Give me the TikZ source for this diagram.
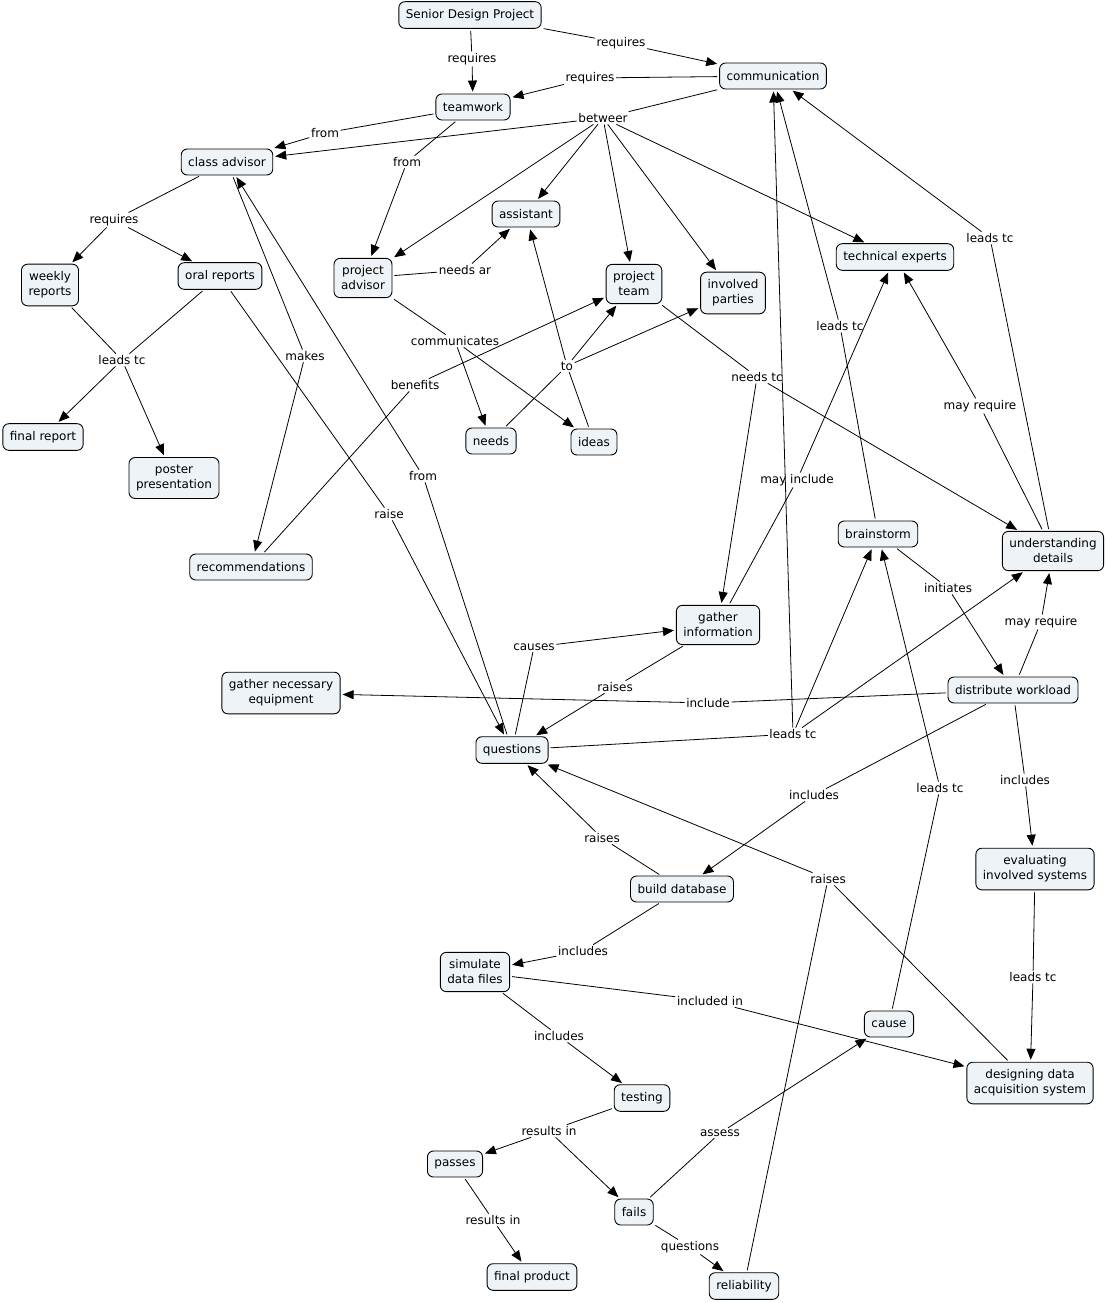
\documentclass[tikz,border=0pt]{standalone}
\usepackage{fontspec}
\setmainfont{DejaVu Sans}
\usetikzlibrary{arrows.meta}
\definecolor{cfill}{RGB}{237,243,246}
\begin{document}
\begin{tikzpicture}[x=1pt,y=-1pt,
  font=\fontsize{12}{15}\selectfont,
  concept/.style={draw=black,line width=0.9pt,rounded corners=6pt,fill=cfill,align=center,inner xsep=7pt,inner ysep=7.5pt,minimum height=26pt},
  lp/.style={inner sep=1.5pt,align=center},
  ln/.style={line width=0.8pt,shorten <=2pt},
  arr/.style={line width=0.8pt,-{Triangle[length=11pt,width=9pt]},shorten >=2pt}]
\useasboundingbox (0,0) rectangle (1107,1303);
% concepts
\node[concept] (sdp) at (470,15) {Senior Design Project};
\node[concept] (comm) at (773,76) {communication};
\node[concept] (team) at (473,107) {teamwork};
\node[concept] (cadv) at (227,162) {class advisor};
\node[concept] (asst) at (526,214) {assistant};
\node[concept] (padv) at (363,278) {project\\advisor};
\node[concept] (pteam) at (634,284) {project\\team};
\node[concept] (invp) at (733,293) {involved\\parties};
\node[concept] (tech) at (895,257) {technical experts};
\node[concept] (weekly) at (50,285) {weekly\\reports};
\node[concept] (oral) at (220,276) {oral reports};
\node[concept] (frep) at (43,437) {final report};
\node[concept] (poster) at (174,478) {poster\\presentation};
\node[concept] (needs) at (491,441) {needs};
\node[concept] (ideas) at (594,442) {ideas};
\node[concept] (recom) at (251,567) {recommendations};
\node[concept] (brain) at (878,534) {brainstorm};
\node[concept] (under) at (1053,551) {understanding\\details};
\node[concept] (ginfo) at (718,625) {gather\\information};
\node[concept] (gequip) at (281,693) {gather necessary\\equipment};
\node[concept] (dist) at (1013,690) {distribute workload};
\node[concept] (quest) at (512,750) {questions};
\node[concept] (bdb) at (682,889) {build database};
\node[concept] (eval) at (1035,869) {evaluating\\involved systems};
\node[concept] (sim) at (475,972) {simulate\\data files};
\node[concept] (cause) at (889,1024) {cause};
\node[concept] (design) at (1030,1083) {designing data\\acquisition system};
\node[concept] (test) at (642,1098) {testing};
\node[concept] (pass) at (455,1164) {passes};
\node[concept] (fails) at (634,1212) {fails};
\node[concept] (fprod) at (532,1277) {final product};
\node[concept] (rel) at (744,1286) {reliability};
% linking phrases
\node[lp] (l1) at (472,59) {requires};
\node[lp] (l2) at (621,43) {requires};
\node[lp] (l3) at (590,78) {requires};
\node[lp] (l4) at (603,118) {betweer};
\node[lp] (l5) at (325,133) {from};
\node[lp] (l6) at (407,162) {from};
\node[lp] (l7) at (114,220) {requires};
\node[lp] (l8) at (465,270) {needs ar};
\node[lp] (l9) at (455,341) {communicates};
\node[lp] (l10) at (567,366) {to};
\node[lp] (l11) at (415,385) {benefits};
\node[lp] (l12) at (122,360) {leads tc};
\node[lp] (l13) at (305,356) {makes};
\node[lp] (l14) at (389,514) {raise};
\node[lp] (l15) at (423,476) {from};
\node[lp] (l16) at (757,377) {needs tc};
\node[lp] (l17) at (797,480) {may include};
\node[lp] (l18) at (840,326) {leads tc};
\node[lp] (l19) at (990,238) {leads tc};
\node[lp] (l20) at (980,406) {may require};
\node[lp] (l21) at (948,588) {initiates};
\node[lp] (l22) at (1041,622) {may require};
\node[lp] (l23) at (534,647) {causes};
\node[lp] (l24) at (615,687) {raises};
\node[lp] (l25) at (708,703) {include};
\node[lp] (l26) at (793,734) {leads tc};
\node[lp] (l27) at (814,795) {includes};
\node[lp] (l28) at (1025,780) {includes};
\node[lp] (l29) at (602,838) {raises};
\node[lp] (l30) at (828,879) {raises};
\node[lp] (l31) at (940,788) {leads tc};
\node[lp] (l32) at (1033,977) {leads tc};
\node[lp] (l33) at (583,951) {includes};
\node[lp] (l34) at (710,1001) {included in};
\node[lp] (l35) at (559,1036) {includes};
\node[lp] (l36) at (549,1131) {results in};
\node[lp] (l37) at (493,1220) {results in};
\node[lp] (l38) at (720,1133) {assess};
\node[lp] (l39) at (690,1247) {questions};
% connections
\draw[ln] (sdp) -- (l1); \draw[arr] (l1) -- (team);
\draw[ln] (sdp) -- (l2); \draw[arr] (l2) -- (comm);
\draw[ln] (comm) -- (l3); \draw[arr] (l3) -- (team);
\draw[ln] (comm) -- (l4);
\draw[arr] (l4) -- (cadv); \draw[arr] (l4) -- (padv); \draw[arr] (l4) -- (asst);
\draw[arr] (l4) -- (pteam); \draw[arr] (l4) -- (invp); \draw[arr] (l4) -- (tech);
\draw[ln] (team) -- (l5); \draw[arr] (l5) -- (cadv);
\draw[ln] (team) -- (l6); \draw[arr] (l6) -- (padv);
\draw[ln] (cadv) -- (l7); \draw[arr] (l7) -- (weekly); \draw[arr] (l7) -- (oral);
\draw[ln] (padv) -- (l8); \draw[arr] (l8) -- (asst);
\draw[ln] (padv) -- (l9); \draw[arr] (l9) -- (needs); \draw[arr] (l9) -- (ideas);
\draw[ln] (needs) -- (l10); \draw[ln] (ideas) -- (l10);
\draw[arr] (l10) -- (asst); \draw[arr] (l10) -- (pteam); \draw[arr] (l10) -- (invp);
\draw[ln] (recom) -- (l11); \draw[arr] (l11) -- (pteam);
\draw[ln] (weekly) -- (l12); \draw[ln] (oral) -- (l12);
\draw[arr] (l12) -- (frep); \draw[arr] (l12) -- (poster);
\draw[ln] (cadv) -- (l13); \draw[arr] (l13) -- (recom);
\draw[ln] (oral) -- (l14); \draw[arr] (l14) -- (quest);
\draw[ln] (quest) -- (l15); \draw[arr] (l15) -- (cadv);
\draw[ln] (pteam) -- (l16); \draw[arr] (l16) -- (ginfo); \draw[arr] (l16) -- (under);
\draw[ln] (ginfo) -- (l17); \draw[arr] (l17) -- (tech);
\draw[ln] (brain) -- (l18); \draw[arr] (l18) -- (comm);
\draw[ln] (under) -- (l19); \draw[arr] (l19) -- (comm);
\draw[ln] (under) -- (l20); \draw[arr] (l20) -- (tech);
\draw[ln] (brain) -- (l21); \draw[arr] (l21) -- (dist);
\draw[ln] (dist) -- (l22); \draw[arr] (l22) -- (under);
\draw[ln] (quest) -- (l23); \draw[arr] (l23) -- (ginfo);
\draw[ln] (ginfo) -- (l24); \draw[arr] (l24) -- (quest);
\draw[ln] (dist) -- (l25); \draw[arr] (l25) -- (gequip);
\draw[ln] (quest) -- (l26);
\draw[arr] (l26) -- (comm); \draw[arr] (l26) -- (brain); \draw[arr] (l26) -- (under);
\draw[ln] (dist) -- (l27); \draw[arr] (l27) -- (bdb);
\draw[ln] (dist) -- (l28); \draw[arr] (l28) -- (eval);
\draw[ln] (bdb) -- (l29); \draw[arr] (l29) -- (quest);
\draw[ln] (design) -- (l30); \draw[ln] (rel) -- (l30); \draw[arr] (l30) -- (quest);
\draw[ln] (cause) -- (l31); \draw[arr] (l31) -- (brain);
\draw[ln] (eval) -- (l32); \draw[arr] (l32) -- (design);
\draw[ln] (bdb) -- (l33); \draw[arr] (l33) -- (sim);
\draw[ln] (sim) -- (l34); \draw[arr] (l34) -- (design);
\draw[ln] (sim) -- (l35); \draw[arr] (l35) -- (test);
\draw[ln] (test) -- (l36); \draw[arr] (l36) -- (pass); \draw[arr] (l36) -- (fails);
\draw[ln] (pass) -- (l37); \draw[arr] (l37) -- (fprod);
\draw[ln] (fails) -- (l38); \draw[arr] (l38) -- (cause);
\draw[ln] (fails) -- (l39); \draw[arr] (l39) -- (rel);
\end{tikzpicture}
\end{document}
